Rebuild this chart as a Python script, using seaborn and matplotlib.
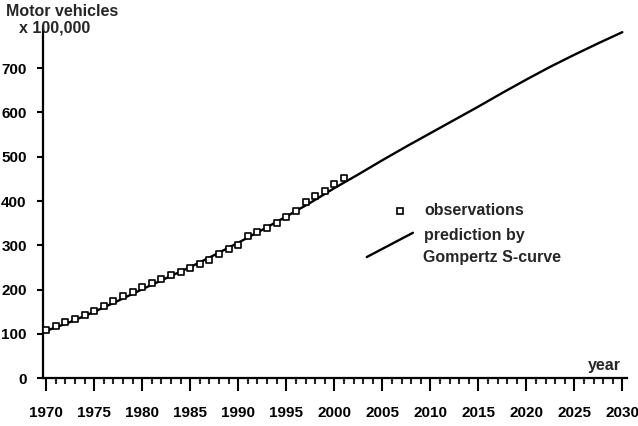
import pandas as pd
import matplotlib.pyplot as plt
import seaborn as sns

# Observed motor vehicles (x 100,000), 1970-2001
obs_years = list(range(1970, 2002))
obs_values = [110, 118, 126, 134, 142, 151, 163, 174, 186, 195,
              206, 214, 224, 234, 240, 248, 258, 268, 280, 292,
              301, 320, 331, 339, 351, 363, 377, 397, 412, 422,
              439, 451]

# Gompertz S-curve prediction, every 2.5 years
fit_years = [1970, 1972.5, 1975, 1977.5, 1980, 1982.5, 1985, 1987.5, 1990,
             1992.5, 1995, 1997.5, 2000, 2002.5, 2005, 2007.5, 2010, 2012.5,
             2015, 2017.5, 2020, 2022.5, 2025, 2027.5, 2030]
fit_values = [107, 127, 150, 175, 201, 226, 251, 278, 306,
              335, 365, 396, 429, 460, 492, 523, 553, 583,
              613, 644, 674, 703, 730, 756, 781]

x_ticks = list(range(1970, 2031, 5))
y_ticks = list(range(0, 701, 100))

obs = pd.DataFrame({'year': obs_years, 'vehicles': obs_values})
fit = pd.DataFrame({'year': fit_years, 'vehicles': fit_values})

sns.set_style("ticks")
plt.rcParams['font.family'] = ['Liberation Sans', 'DejaVu Sans']
plt.rcParams['font.weight'] = 'bold'

fig = plt.figure(figsize=(6.38, 4.26), dpi=100)
ax = fig.add_axes([0.068, 0.112, 0.915, 0.825])

sns.lineplot(data=fit, x='year', y='vehicles', color='black', linewidth=1.7, ax=ax)
sns.scatterplot(data=obs, x='year', y='vehicles', marker='s', s=14,
                facecolor='white', edgecolor='black', linewidth=1.2, ax=ax, zorder=3)

ax.set_xlim(1969.7, 2030.5)
ax.set_ylim(0, 793)
ax.set_xticks(x_ticks)
ax.set_xticks(range(1970, 2031), minor=True)
ax.set_yticks(y_ticks)
ax.set_xlabel('')
ax.set_ylabel('')

for side in ['top', 'right']:
    ax.spines[side].set_visible(False)
for side in ['left', 'bottom']:
    ax.spines[side].set_linewidth(1.6)
    ax.spines[side].set_color('black')

ax.tick_params(axis='x', which='major', direction='out', length=9, width=1.5,
               pad=11, labelsize=11, colors='black')
ax.tick_params(axis='x', which='minor', direction='out', length=4, width=1.5)
ax.tick_params(axis='y', which='major', direction='out', length=4, width=1.5,
               pad=8, labelsize=11, colors='black')
for lab in ax.get_xticklabels() + ax.get_yticklabels():
    lab.set_fontweight('bold')

fs = 11.5
# axis titles
fig.text(0.009, 0.972, 'Motor vehicles', fontsize=fs, fontweight='bold', va='center')
fig.text(0.03, 0.934, 'x 100,000', fontsize=fs, fontweight='bold', va='center')
ax.text(0.99, 0.037, 'year', transform=ax.transAxes, fontsize=fs,
        fontweight='bold', ha='right', va='center')

# legend
ax.plot([0.611], [0.476], transform=ax.transAxes, marker='s', markersize=3.8,
        markerfacecolor='white', markeredgecolor='black', markeredgewidth=1.2)
ax.text(0.652, 0.476, 'observations', transform=ax.transAxes, fontsize=fs,
        fontweight='bold', va='center')
ax.plot([0.554, 0.633], [0.345, 0.414], transform=ax.transAxes, color='black',
        linewidth=1.7)
ax.text(0.652, 0.405, 'prediction by', transform=ax.transAxes, fontsize=fs,
        fontweight='bold', va='center')
ax.text(0.650, 0.343, 'Gompertz S-curve', transform=ax.transAxes, fontsize=fs,
        fontweight='bold', va='center')

plt.savefig('out.png', dpi=100)
plt.close()
